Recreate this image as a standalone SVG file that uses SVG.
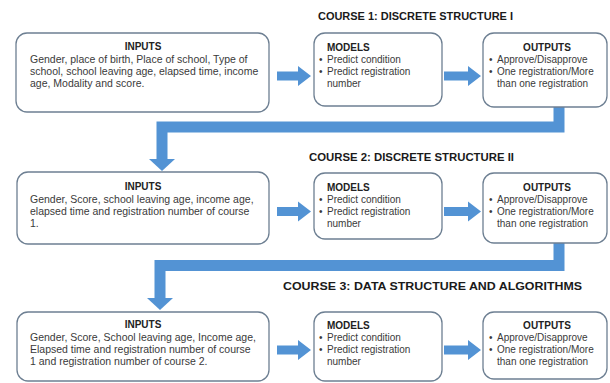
<svg xmlns="http://www.w3.org/2000/svg" width="610" height="383" viewBox="0 0 610 383">
<style>
.box{fill:#fff;stroke:#6d7f92;stroke-width:1.3}
.t{font-family:"Liberation Sans",Arial,sans-serif;font-size:10.5px;fill:#3a3a3a}
.s{font-family:"Liberation Sans",Arial,sans-serif;font-size:10px;fill:#3a3a3a}
.h{font-family:"Liberation Sans",Arial,sans-serif;font-size:10px;font-weight:bold;fill:#222}
.title{font-family:"Liberation Sans",Arial,sans-serif;font-size:11.5px;font-weight:bold;fill:#1a1a1a}
.conn{fill:none;stroke:#5393d4;stroke-width:11;stroke-linejoin:miter}
.ah{fill:#5393d4}
</style>
<rect width="610" height="383" fill="#fff"/>
<text class="title" x="318" y="20" textLength="195" lengthAdjust="spacingAndGlyphs">COURSE 1: DISCRETE STRUCTURE I</text>
<text class="title" x="309" y="161" textLength="205" lengthAdjust="spacingAndGlyphs">COURSE 2: DISCRETE STRUCTURE II</text>
<text class="title" x="283" y="290" textLength="299" lengthAdjust="spacingAndGlyphs">COURSE 3: DATA STRUCTURE AND ALGORITHMS</text>

<g id="connectors">
<path class="conn" d="M559 107 V127 H162 V160"/>
<polygon class="ah" points="149,159 175,159 162,171"/>
<path class="conn" d="M559 243 V265.5 H160 V299"/>
<polygon class="ah" points="147,298 173,298 160,310"/>
<path class="ah" d="M277 71.5 H298 V66 L311 76 L298 86 V80.5 H277 Z"/>
<path class="ah" d="M444 71.5 H468 V66 L481 76 L468 86 V80.5 H444 Z"/>
<path class="ah" d="M277 207 H298 V201.5 L311 211.5 L298 221.5 V216 H277 Z"/>
<path class="ah" d="M444 207 H468 V201.5 L481 211.5 L468 221.5 V216 H444 Z"/>
<path class="ah" d="M277 345.5 H298 V340 L311 350 L298 360 V354.5 H277 Z"/>
<path class="ah" d="M444 345.5 H468 V340 L481 350 L468 360 V354.5 H444 Z"/>
</g>

<g id="inputs1">
<rect class="box" x="16" y="33" width="253" height="79" rx="11"/>
<text class="h" x="143" y="50" text-anchor="middle">INPUTS</text>
<text class="t" x="30" y="63">Gender, place of birth, Place of school, Type of</text>
<text class="t" x="30" y="75">school, school leaving age, elapsed time, income</text>
<text class="t" x="30" y="87">age, Modality and score.</text>
</g>
<g id="models1">
<rect class="box" x="314" y="33" width="128" height="73" rx="11"/>
<text class="h" x="327" y="51">MODELS</text>
<text class="s" x="319" y="63">•</text><text class="s" x="327" y="63">Predict condition</text>
<text class="s" x="319" y="75">•</text><text class="s" x="327" y="75">Predict registration</text>
<text class="s" x="327" y="87">number</text>
</g>
<g id="outputs1">
<rect class="box" x="483" y="33" width="124" height="74" rx="11"/>
<text class="h" x="547" y="51" text-anchor="middle">OUTPUTS</text>
<text class="s" x="489" y="63">•</text><text class="s" x="497" y="63">Approve/Disapprove</text>
<text class="s" x="489" y="75">•</text><text class="s" x="497" y="75">One registration/More</text>
<text class="s" x="497" y="87">than one registration</text>
</g>

<g id="inputs2">
<rect class="box" x="17" y="172" width="252" height="72" rx="11"/>
<text class="h" x="143" y="190" text-anchor="middle">INPUTS</text>
<text class="t" x="30" y="203">Gender, Score, school leaving age, income age,</text>
<text class="t" x="30" y="215">elapsed time and registration number of course</text>
<text class="t" x="30" y="227">1.</text>
</g>
<g id="models2">
<rect class="box" x="314" y="173" width="128" height="66" rx="11"/>
<text class="h" x="327" y="191">MODELS</text>
<text class="s" x="319" y="203">•</text><text class="s" x="327" y="203">Predict condition</text>
<text class="s" x="319" y="215">•</text><text class="s" x="327" y="215">Predict registration</text>
<text class="s" x="327" y="227">number</text>
</g>
<g id="outputs2">
<rect class="box" x="483" y="173" width="124" height="70" rx="11"/>
<text class="h" x="547" y="191" text-anchor="middle">OUTPUTS</text>
<text class="s" x="489" y="203">•</text><text class="s" x="497" y="203">Approve/Disapprove</text>
<text class="s" x="489" y="215">•</text><text class="s" x="497" y="215">One registration/More</text>
<text class="s" x="497" y="227">than one registration</text>
</g>

<g id="inputs3">
<rect class="box" x="17" y="312" width="252" height="69" rx="11"/>
<text class="h" x="143" y="328" text-anchor="middle">INPUTS</text>
<text class="t" x="30" y="341">Gender, Score, School leaving age, Income age,</text>
<text class="t" x="30" y="353">Elapsed time and registration number of course</text>
<text class="t" x="30" y="365">1  and registration number of course 2.</text>
</g>
<g id="models3">
<rect class="box" x="314" y="312" width="128" height="69" rx="11"/>
<text class="h" x="327" y="329">MODELS</text>
<text class="s" x="319" y="341">•</text><text class="s" x="327" y="341">Predict condition</text>
<text class="s" x="319" y="353">•</text><text class="s" x="327" y="353">Predict registration</text>
<text class="s" x="327" y="365">number</text>
</g>
<g id="outputs3">
<rect class="box" x="483" y="312" width="124" height="67" rx="11"/>
<text class="h" x="547" y="329" text-anchor="middle">OUTPUTS</text>
<text class="s" x="489" y="341">•</text><text class="s" x="497" y="341">Approve/Disapprove</text>
<text class="s" x="489" y="353">•</text><text class="s" x="497" y="353">One registration/More</text>
<text class="s" x="497" y="365">than one registration</text>
</g>
</svg>
